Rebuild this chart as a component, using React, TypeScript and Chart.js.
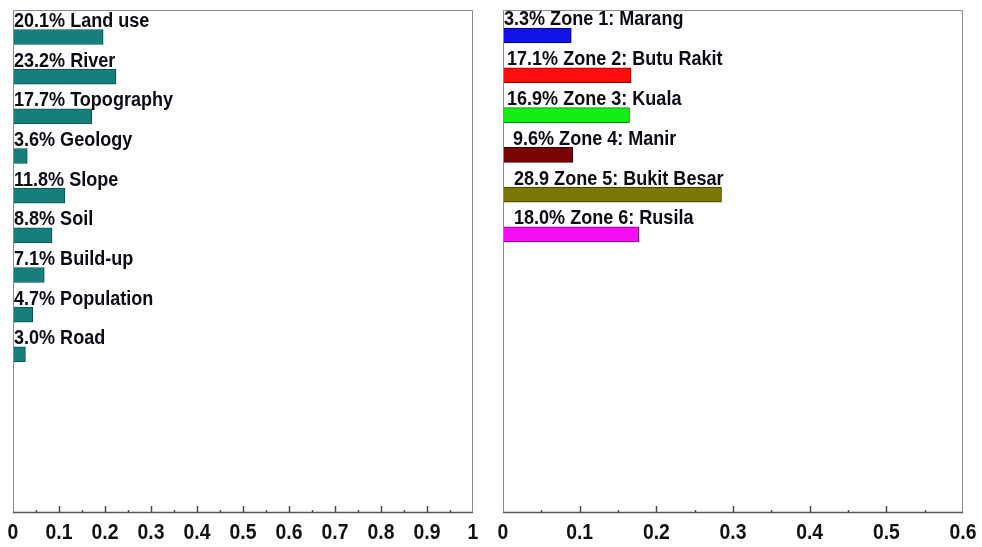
import React, { useEffect, useRef } from "react";
import { Chart, registerables } from "chart.js";

Chart.register(...registerables);

// ---- data ----
const factorNames = ["Land use", "River", "Topography", "Geology", "Slope", "Soil", "Build-up", "Population", "Road"];
const factorPercentLabels = ["20.1%", "23.2%", "17.7%", "3.6%", "11.8%", "8.8%", "7.1%", "4.7%", "3.0%"];
const factorWeights = [0.196, 0.224, 0.171, 0.031, 0.113, 0.085, 0.068, 0.043, 0.027];

const zoneNames = ["Zone 1: Marang", "Zone 2: Butu Rakit", "Zone 3: Kuala", "Zone 4: Manir", "Zone 5: Bukit Besar", "Zone 6: Rusila"];
const zonePercentLabels = ["3.3%", "17.1%", "16.9%", "9.6%", "28.9", "18.0%"];
const zoneWeights = [0.089, 0.167, 0.165, 0.091, 0.285, 0.177];

const leftTickMax = 1;
const rightTickMax = 0.6;

// ---- styles ----
const factorColor = "#167f7b";
const factorBorder = "#0c504d";
const zoneColors = ["#1212e6", "#ff0c0c", "#14ee14", "#7a0202", "#7c7602", "#f50ef5"];
const zoneBorders = ["#00007a", "#900000", "#0a8a0a", "#3a0000", "#403d00", "#8a008a"];
const zoneLabelIndent = [1, 4, 4, 10, 11, 11];
const FONT = "'Liberation Sans', Arial, sans-serif";

function drawStretched(ctx: CanvasRenderingContext2D, text: string, x: number, y: number, size: number, sx: number, align: CanvasTextAlign, baseline: CanvasTextBaseline) {
  ctx.save();
  ctx.translate(x, y);
  ctx.scale(sx, 1);
  ctx.font = `bold ${size}px ${FONT}`;
  ctx.textAlign = align;
  ctx.textBaseline = baseline;
  ctx.fillText(text, 0, 0);
  ctx.restore();
}

function makeChart(
  canvas: HTMLCanvasElement,
  names: string[],
  pct: string[],
  values: number[],
  bg: string | string[],
  border: string | string[],
  indent: number[],
  xMax: number,
  yMin: number,
  pad: { left: number; right: number }
) {
  const labelPlugin = {
    id: "barLabels",
    afterDatasetsDraw(chart: any) {
      const ctx = chart.ctx;
      const meta = chart.getDatasetMeta(0);
      ctx.save();
      ctx.fillStyle = "#0b0b16";
      meta.data.forEach((el: any, i: number) => {
        drawStretched(ctx, `${pct[i]} ${names[i]}`, chart.chartArea.left + indent[i], el.y - 10, 19.5, 0.925, "left", "alphabetic");
      });
      ctx.restore();
    },
  };
  const framePlugin = {
    id: "frame",
    afterDraw(chart: any) {
      const ctx = chart.ctx;
      const a = chart.chartArea;
      const xs = chart.scales.x;
      ctx.save();
      ctx.strokeStyle = "#8c8c8c";
      ctx.lineWidth = 1;
      ctx.beginPath();
      ctx.moveTo(a.left + 0.5, a.bottom);
      ctx.lineTo(a.left + 0.5, a.top + 0.5);
      ctx.lineTo(a.right - 0.5, a.top + 0.5);
      ctx.lineTo(a.right - 0.5, a.bottom);
      ctx.stroke();
      ctx.strokeStyle = "#5a5a5a";
      ctx.lineWidth = 1.5;
      ctx.beginPath();
      ctx.moveTo(a.left, a.bottom - 0.5);
      ctx.lineTo(a.right, a.bottom - 0.5);
      ctx.stroke();
      ctx.strokeStyle = "#4a4a4a";
      ctx.lineWidth = 1.5;
      const n = Math.round(xMax / 0.05);
      for (let i = 1; i < n; i++) {
        const px = Math.round(xs.getPixelForValue(i * 0.05)) + 0.5;
        const len = i % 2 === 0 ? 7 : 3;
        ctx.beginPath();
        ctx.moveTo(px, a.bottom);
        ctx.lineTo(px, a.bottom - len);
        ctx.stroke();
      }
      // tick labels from the scale's own ticks
      ctx.fillStyle = "#111";
      xs.ticks.forEach((t: any) => {
        const label = String(parseFloat(Number(t.value).toFixed(2)));
        drawStretched(ctx, label, xs.getPixelForValue(t.value), a.bottom + 19.5, 22, 0.88, "center", "middle");
      });
      ctx.restore();
    },
  };

  return new Chart(canvas, {
    type: "bar",
    data: {
      datasets: [
        {
          data: values.map((v, i) => ({ x: v, y: i })),
          backgroundColor: bg as any,
          borderColor: border as any,
          borderWidth: 1,
          barThickness: 15,
        },
      ],
    },
    options: {
      indexAxis: "y",
      animation: false,
      responsive: false,
      devicePixelRatio: 1,
      layout: { padding: { left: pad.left, right: pad.right, top: 10, bottom: 0 } },
      plugins: { legend: { display: false }, tooltip: { enabled: false } },
      scales: {
        x: {
          type: "linear",
          min: 0,
          max: xMax,
          offset: false,
          grid: { display: false, drawTicks: false },
          border: { display: false },
          ticks: {
            stepSize: 0.1,
            display: false,
            autoSkip: false,
          },
          afterFit: (s: any) => {
            s.height = 34;
            s.paddingLeft = 0;
            s.paddingRight = 0;
          },
        },
        y: {
          type: "linear",
          reverse: true,
          offset: false,
          min: yMin,
          max: 12,
          display: false,
        },
      },
    },
    plugins: [labelPlugin, framePlugin],
  } as any);
}

export default function App() {
  const leftRef = useRef<HTMLCanvasElement>(null);
  const rightRef = useRef<HTMLCanvasElement>(null);

  useEffect(() => {
    const left = makeChart(
      leftRef.current!,
      factorNames,
      factorPercentLabels,
      factorWeights,
      factorColor,
      factorBorder,
      factorNames.map(() => 1),
      leftTickMax,
      -0.68,
      { left: 13, right: 17 }
    );
    const right = makeChart(
      rightRef.current!,
      zoneNames,
      zonePercentLabels,
      zoneWeights,
      zoneColors,
      zoneBorders,
      zoneLabelIndent,
      rightTickMax,
      -0.64,
      { left: 13, right: 19 }
    );
    return () => {
      left.destroy();
      right.destroy();
    };
  }, []);

  return (
    <div style={{ position: "absolute", left: 0, top: 0, width: 982, height: 547, background: "#fff" }}>
      <canvas ref={leftRef} width={490} height={547} style={{ position: "absolute", left: 0, top: 0 }} />
      <canvas ref={rightRef} width={492} height={547} style={{ position: "absolute", left: 490, top: 0 }} />
    </div>
  );
}
